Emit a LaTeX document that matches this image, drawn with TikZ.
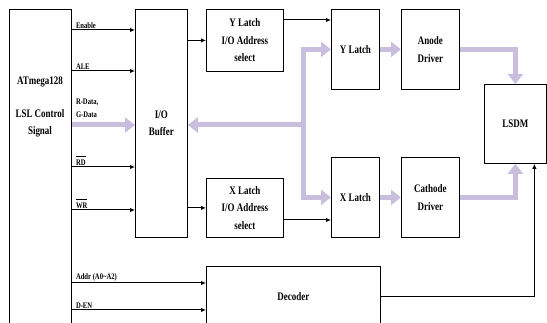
\documentclass[tikz,border=0pt]{standalone}
\usepackage{fontspec}
\setmainfont{Liberation Serif}[FakeStretch=0.78]
\usetikzlibrary{arrows.meta,positioning}
\definecolor{buslav}{RGB}{202,190,222}
\newcommand{\ovl}[1]{$\overline{\rule{0pt}{8.5pt}\mbox{#1}}$}

\begin{document}
\begin{tikzpicture}[x=1pt,y=-1pt,
  font=\bfseries\fontsize{11.5}{17.5}\selectfont,
  box/.style={draw,line width=0.8pt,anchor=north west,inner sep=0pt,align=center},
  sig/.style={line width=1pt,-{Latex[length=5pt,width=4.5pt]}},
  bus/.style={buslav,line width=5pt,-{Triangle[length=10pt,width=15pt]}},
  lbl/.style={font=\bfseries\fontsize{8.5}{13}\selectfont,anchor=south west,
              inner sep=1pt,xshift=3pt,align=left}]
\clip (0,0) rectangle (547,323);
% blocks
\node[box,minimum width=62pt,minimum height=330pt] (mcu) at (9,9) {};
\node[align=center,font=\bfseries\fontsize{11.5}{16.5}\selectfont] (mcutxt) at (40,107)
      {ATmega128\\[16.5pt]LSL Control\\Signal};
\node[box,minimum width=52pt,minimum height=228pt] (buf) at (135,9) {I/O\\Buffer};
\node[box,minimum width=77pt,minimum height=62pt] (yaddr) at (206,9) {Y Latch\\I/O Address\\select};
\node[box,minimum width=77pt,minimum height=59pt] (xaddr) at (206,178) {X Latch\\I/O Address\\select};
\node[box,minimum width=48pt,minimum height=80pt] (ylat) at (331,9) {Y Latch};
\node[box,minimum width=48pt,minimum height=80pt] (xlat) at (331,157) {X Latch};
\node[box,minimum width=58pt,minimum height=80pt] (anode) at (401,9) {Anode\\Driver};
\node[box,minimum width=58pt,minimum height=80pt] (cath) at (401,157) {Cathode\\Driver};
\node[box,minimum width=62pt,minimum height=79pt] (lsdm) at (484,84) {LSDM};
\node[box,minimum width=174pt,minimum height=60pt] (dec) at (206,266) {Decoder};
% control signals
\foreach \y/\t in {30/Enable, 71/ALE, 167/\ovl{RD}, 210/\ovl{WR}}{
  \draw[sig] (mcu.east |- 0,\y) -- (buf.west |- 0,\y);
  \node[lbl] at (mcu.east |- 0,\y) {\t};
}
\draw[bus] (mcu.east |- 0,125) -- (buf.west |- 0,125);
\node[lbl] at (mcu.east |- 0,119) {R-Data,\\G-Data};
\draw[sig] (mcu.east |- 0,283) -- (dec.west |- 0,283);
\node[lbl] at (mcu.east |- 0,283) {Addr (A0\textasciitilde A2)};
\draw[sig] (mcu.east |- 0,310) -- (dec.west |- 0,310);
\node[lbl] at (mcu.east |- 0,310) {D-EN};
% address select
\draw[sig] (buf.east |- yaddr.west) -- (yaddr.west);
\draw[sig] (buf.east |- xaddr.west) -- (xaddr.west);
\draw[sig] (yaddr.east |- 0,20) -- (ylat.west |- 0,20);
\draw[sig] (xaddr.east |- 0,220) -- (xlat.west |- 0,220);
% data bus
\coordinate (jn) at (303,125);
\draw[bus] (jn) -- (buf.east |- jn);
\draw[bus] (jn) |- (ylat.west);
\draw[bus] (jn) |- (xlat.west);
\draw[bus] (ylat) -- (anode);
\draw[bus] (xlat) -- (cath);
\draw[bus] (anode.east) -| (lsdm.north);
\draw[bus] (cath.east) -| (lsdm.south);
\draw[sig] (dec.east) -| ([xshift=19pt]lsdm.south);
\end{tikzpicture}
\end{document}
